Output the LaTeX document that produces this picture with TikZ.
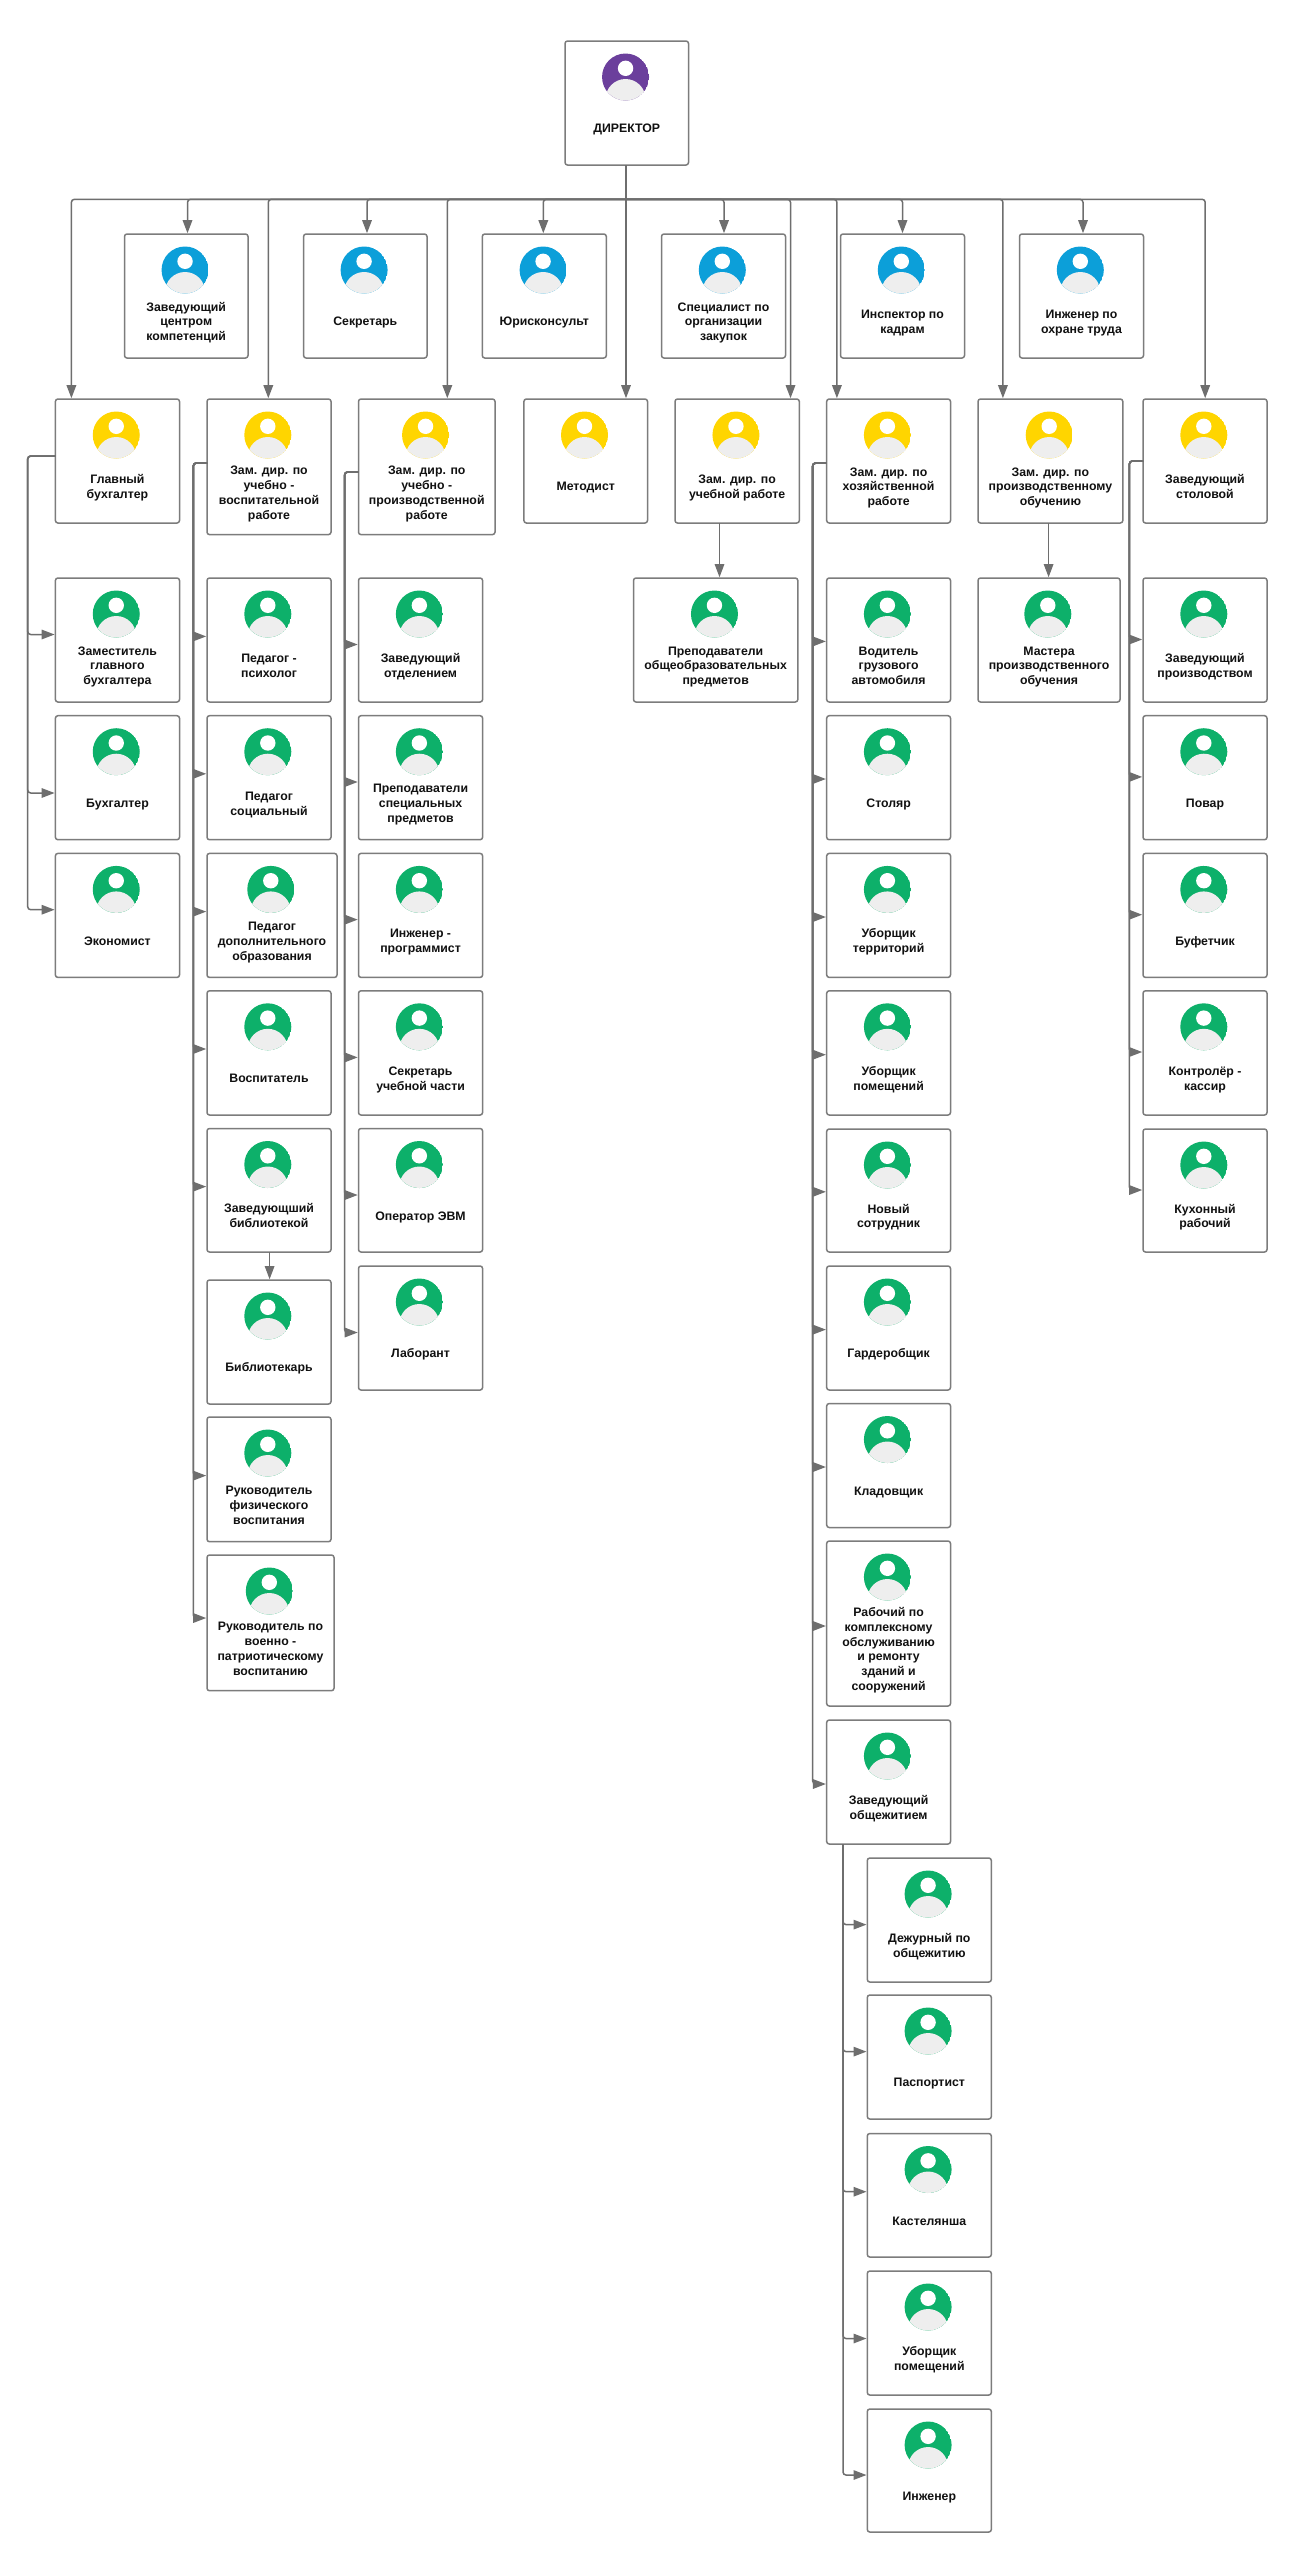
\documentclass[tikz,border=0pt]{standalone}
\usepackage{fontspec}
\setmainfont{Liberation Sans}
\usetikzlibrary{arrows.meta,calc}
\definecolor{cPurple}{HTML}{6B3F9C}
\definecolor{cBlue}{HTML}{0C9FD9}
\definecolor{cYellow}{HTML}{FFD500}
\definecolor{cGreen}{HTML}{0DB06A}
\definecolor{cBody}{HTML}{EEEEEE}
\definecolor{cBox}{HTML}{7C7C7C}
\definecolor{cLine}{HTML}{6E6E6E}
\definecolor{cText}{HTML}{111111}
\tikzset{
  box/.style={draw=cBox,line width=1.5pt,fill=white,rounded corners=2.5pt,inner sep=0pt,outer sep=0pt},
  lbl/.style={align=center,text=cText,inner sep=0pt,font=\fontsize{12.3pt}{14.85pt}\selectfont\bfseries},
  conn/.style={draw=cLine,line width=1.5pt},
  arr/.style={conn,rounded corners=3pt,-{Triangle[length=13pt,width=9.5pt]},shorten >=0.8pt},
  thinarr/.style={arr,line width=1.1pt,-{Triangle[length=13pt,width=9.5pt]}},
}
% name, x1, y1, x2, y2, colour, text
\newcommand{\person}[7]{%
  \node[box,minimum width={(#4-#2)*1pt},minimum height={(#5-#3)*1pt}] (#1) at ({(#2+#4)/2},{(#3+#5)/2}) {};
  \begin{scope}
    \clip ({(#2+#4)/2-1.2},{#3+36}) circle[radius=23.5pt];
    \fill[#6] ({(#2+#4)/2-1.2},{#3+36}) circle[radius=23.5pt];
    \fill[cBody] ({(#2+#4)/2-1.2},{#3+58}) circle[radius=20pt];
  \end{scope}
  \fill[white] ({(#2+#4)/2-1.2},{#3+27.3}) circle[radius=7.7pt];
  \node[lbl] (#1t) at ({(#2+#4)/2},{(#3+#5)/2+27}) {\strut #7\strut};
}
% from the bus down to a child
\newcommand{\drop}[2]{\draw[arr] (stem) -- (#1,199.3) -- (#1,199.3 |- #2.north);}
% parent, trunk x, start y, child, arrow y : sharp at the child
\newcommand{\side}[5]{\draw[arr] (#1.west |- 0,#3) -- (#2,#3) -- (#2,#5) [sharp corners] -- (#4.west |- 0,#5);}
% same, with a rounded elbow at the child
\newcommand{\sider}[5]{\draw[arr] (#1.west |- 0,#3) -- (#2,#3) -- (#2,#5) -- (#4.west |- 0,#5);}
\begin{document}
\begin{tikzpicture}[x=1pt,y=-1pt]
\useasboundingbox (0,0) rectangle (1294,2560);
\fill[white] (0,0) rectangle (1294,2560);
\coordinate (stem) at (626,199.3);

\person{dir}{565}{41}{688.5}{165}{cPurple}{ДИРЕКТОР}
% blue row
\person{b1}{124.5}{234}{248}{358}{cBlue}{Заведующий\\центром\\компетенций}
\person{b2}{303.6}{234}{427}{358}{cBlue}{Секретарь}
\person{b3}{482.3}{234}{606.3}{358}{cBlue}{Юрисконсульт}
\person{b4}{661.5}{234}{785.5}{358}{cBlue}{Специалист по\\организации\\закупок}
\person{b5}{840.5}{234}{964.5}{358}{cBlue}{Инспектор по\\кадрам}
\person{b6}{1019.5}{234}{1143.5}{358}{cBlue}{Инженер по\\охране труда}
% yellow row
\person{y1}{55.4}{399}{179.5}{523}{cYellow}{Главный\\бухгалтер}
\person{y2}{207}{399}{331}{534.6}{cYellow}{Зам. дир. по\\учебно -\\воспитательной\\работе}
\person{y3}{358.5}{399}{495}{534.6}{cYellow}{Зам. дир. по\\учебно -\\производственной\\работе}
\person{y4}{523.9}{399}{647.5}{523}{cYellow}{Методист}
\person{y5}{675}{399}{799.3}{523}{cYellow}{Зам. дир. по\\учебной работе}
\person{y6}{826.7}{399}{950.5}{523}{cYellow}{Зам. дир. по\\хозяйственной\\работе}
\person{y7}{978}{399}{1122.8}{523}{cYellow}{Зам. дир. по\\производственному\\обучению}
\person{y8}{1143}{399}{1267}{523}{cYellow}{Заведующий\\столовой}
% column 1
\person{a1}{55.4}{578}{179.5}{702}{cGreen}{Заместитель\\главного\\бухгалтера}
\person{a2}{55.4}{715.7}{179.5}{839.7}{cGreen}{Бухгалтер}
\person{a3}{55.4}{853.4}{179.5}{977.4}{cGreen}{Экономист}
% column 2
\person{c1}{207}{578}{331}{702}{cGreen}{Педагог -\\психолог}
\person{c2}{207}{715.7}{331}{839.7}{cGreen}{Педагог\\социальный}
\person{c3}{207}{853.4}{337}{977.4}{cGreen}{Педагог\\дополнительного\\образования}
\person{c4}{207}{990.8}{331}{1115}{cGreen}{Воспитатель}
\person{c5}{207}{1128.5}{331}{1252}{cGreen}{Заведующший\\библиотекой}
\person{c6}{207}{1280}{331}{1404}{cGreen}{Библиотекарь}
\person{c7}{207}{1417}{331}{1541.7}{cGreen}{Руководитель\\физического\\воспитания}
\person{c8}{207}{1555}{334}{1690.7}{cGreen}{Руководитель по\\военно -\\патриотическому\\воспитанию}
% column 3
\person{d1}{358.5}{578}{482.6}{702}{cGreen}{Заведующий\\отделением}
\person{d2}{358.5}{715.7}{482.6}{839.7}{cGreen}{Преподаватели\\специальных\\предметов}
\person{d3}{358.5}{853.4}{482.6}{977.4}{cGreen}{Инженер -\\программист}
\person{d4}{358.5}{990.8}{482.6}{1115}{cGreen}{Секретарь\\учебной части}
\person{d5}{358.5}{1128.5}{482.6}{1252}{cGreen}{Оператор ЭВМ}
\person{d6}{358.5}{1266}{482.6}{1390}{cGreen}{Лаборант}
% teachers, masters
\person{p1}{633.5}{578}{797.8}{702}{cGreen}{Преподаватели\\общеобразовательных\\предметов}
\person{m1}{978}{578}{1120}{702}{cGreen}{Мастера\\производственного\\обучения}
% household column
\person{h1}{826.7}{578}{950.5}{702}{cGreen}{Водитель\\грузового\\автомобиля}
\person{h2}{826.7}{715.7}{950.5}{839.7}{cGreen}{Столяр}
\person{h3}{826.7}{853.4}{950.5}{977.4}{cGreen}{Уборщик\\территорий}
\person{h4}{826.7}{990.8}{950.5}{1115}{cGreen}{Уборщик\\помещений}
\person{h5}{826.7}{1129}{950.5}{1252}{cGreen}{Новый\\сотрудник}
\person{h6}{826.7}{1266}{950.5}{1390}{cGreen}{Гардеробщик}
\person{h7}{826.7}{1403.5}{950.5}{1527.5}{cGreen}{Кладовщик}
\person{h8}{826.7}{1541}{950.5}{1706}{cGreen}{Рабочий по\\комплексному\\обслуживанию\\и ремонту\\зданий и\\сооружений}
\person{h9}{826.7}{1720}{950.5}{1844}{cGreen}{Заведующий\\общежитием}
% dormitory column
\person{o1}{867.3}{1858}{991.3}{1982}{cGreen}{Дежурный по\\общежитию}
\person{o2}{867.3}{1995}{991.3}{2119}{cGreen}{Паспортист}
\person{o3}{867.3}{2133.5}{991.3}{2257}{cGreen}{Кастелянша}
\person{o4}{867.3}{2271}{991.3}{2395}{cGreen}{Уборщик\\помещений}
\person{o5}{867.3}{2409}{991.3}{2532}{cGreen}{Инженер}
% canteen column
\person{s1}{1143}{578}{1267}{702}{cGreen}{Заведующий\\производством}
\person{s2}{1143}{715.7}{1267}{839.7}{cGreen}{Повар}
\person{s3}{1143}{853.4}{1267}{977.4}{cGreen}{Буфетчик}
\person{s4}{1143}{990.8}{1267}{1115}{cGreen}{Контролёр -\\кассир}
\person{s5}{1143}{1129}{1267}{1252}{cGreen}{Кухонный\\рабочий}

% director to bus
\draw[conn] (dir.south -| stem) -- (stem);
\drop{71.4}{y1}
\drop{187.5}{b1}
\drop{268.3}{y2}
\drop{367}{b2}
\drop{447.3}{y3}
\drop{543.3}{b3}
\draw[arr] (dir.south -| stem) -- (stem |- y4.north);
\drop{724}{b4}
\drop{790.5}{y5}
\drop{836.9}{y6}
\drop{902.5}{b5}
\drop{1002.9}{y7}
\drop{1083}{b6}
\drop{1205.2}{y8}
% single children
\draw[thinarr] (y5.south -| 719.5,0) -- (719.5,0 |- p1.north);
\draw[thinarr] (y7.south -| 1048.6,0) -- (1048.6,0 |- m1.north);
\draw[thinarr] (c5.south -| 269.6,0) -- (269.6,0 |- c6.north);
% chief accountant
\sider{y1}{27.7}{456}{a1}{634.5}
\sider{y1}{27.7}{456}{a2}{793}
\sider{y1}{27.7}{456}{a3}{909.7}
% education deputy
\side{y2}{193.3}{463}{c1}{636.4}
\side{y2}{193.3}{463}{c2}{773.8}
\side{y2}{193.3}{463}{c3}{911.6}
\side{y2}{193.3}{463}{c4}{1049}
\side{y2}{193.3}{463}{c5}{1186.6}
\side{y2}{193.3}{463}{c7}{1475.6}
\side{y2}{193.3}{463}{c8}{1618}
% production deputy
\side{y3}{344.6}{472}{d1}{644.5}
\side{y3}{344.6}{472}{d2}{782}
\side{y3}{344.6}{472}{d3}{919.6}
\side{y3}{344.6}{472}{d4}{1057.4}
\side{y3}{344.6}{472}{d5}{1195}
\side{y3}{344.6}{472}{d6}{1332.5}
% household deputy
\side{y6}{812.7}{463}{h1}{641.4}
\side{y6}{812.7}{463}{h2}{779}
\side{y6}{812.7}{463}{h3}{917}
\side{y6}{812.7}{463}{h4}{1054.7}
\side{y6}{812.7}{463}{h5}{1191.8}
\side{y6}{812.7}{463}{h6}{1329.6}
\side{y6}{812.7}{463}{h7}{1467}
\side{y6}{812.7}{463}{h8}{1626}
\side{y6}{812.7}{463}{h9}{1784}
% canteen
\side{y8}{1129.4}{461}{s1}{639.5}
\side{y8}{1129.4}{461}{s2}{776.9}
\side{y8}{1129.4}{461}{s3}{914.7}
\side{y8}{1129.4}{461}{s4}{1052}
\side{y8}{1129.4}{461}{s5}{1190}
% dormitory
\draw[arr] (h9.south -| 843,0) -- (843,1924.6) -- (o1.west |- 0,1924.6);
\draw[arr] (h9.south -| 843,0) -- (843,2051.6) -- (o2.west |- 0,2051.6);
\draw[arr] (h9.south -| 843,0) -- (843,2191.7) -- (o3.west |- 0,2191.7);
\draw[arr] (h9.south -| 843,0) -- (843,2338.5) -- (o4.west |- 0,2338.5);
\draw[arr] (h9.south -| 843,0) -- (843,2475) -- (o5.west |- 0,2475);
\end{tikzpicture}
\end{document}
